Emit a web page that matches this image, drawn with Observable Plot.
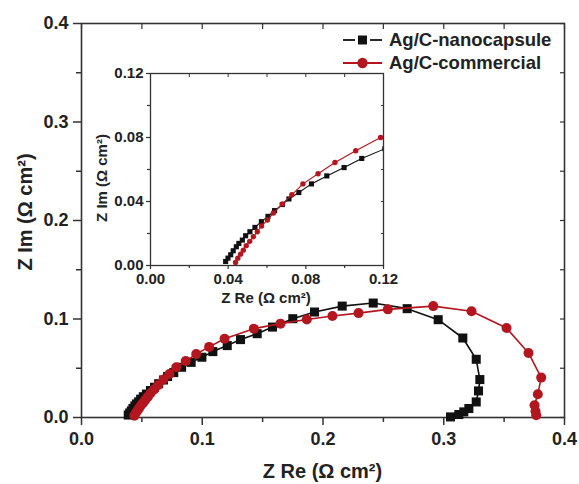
<!DOCTYPE html>
<html><head><meta charset="utf-8">
<script src="https://cdn.jsdelivr.net/npm/d3@7"></script>
<script src="https://cdn.jsdelivr.net/npm/@observablehq/plot@0.6"></script>
<style>
html,body{margin:0;padding:0;background:#fff;}
#chart{position:relative;width:579px;height:484px;overflow:hidden;}
#chart svg{position:absolute;overflow:visible;}
</style></head><body><div id="chart"></div>
<script>
// ---- data ----
const seriesNames = ["Ag/C-nanocapsule", "Ag/C-commercial"];
const nanoRe = [0.0387,0.0399,0.0413,0.0426,0.0442,0.0455,0.0473,0.0490,0.0512,0.0538,0.0571,0.0605,0.0639,0.0679,0.0713,0.0764,0.0829,0.0908,0.0997,0.1088,
  0.1207,0.1317,0.1455,0.1582,0.1750,0.1930,0.2159,0.2416,0.2697,0.2954,0.3158,0.3269,0.3299,0.3288,0.3269,0.3208,0.3166,0.3125,0.3056];
const nanoIm = [0.0025,0.0046,0.0067,0.0092,0.0117,0.0138,0.0159,0.0186,0.0211,0.0238,0.0274,0.0307,0.0343,0.0381,0.0416,0.0456,0.0510,0.0560,0.0612,0.0669,
  0.0730,0.0791,0.0851,0.0918,0.1003,0.1071,0.1131,0.1162,0.1105,0.0993,0.0807,0.0591,0.0385,0.0270,0.0158,0.0091,0.0057,0.0030,0.0006];
const commRe = [0.0438,0.0450,0.0464,0.0478,0.0493,0.0511,0.0530,0.0550,0.0572,0.0602,0.0633,0.0679,0.0728,0.0785,0.0863,0.0950,0.1057,0.1185,
  0.1427,0.1648,0.1866,0.2078,0.2294,0.2537,0.2913,0.3230,0.3520,0.3702,0.3807,0.3779,0.3752,0.3760,0.3766];
const commIm = [0.0019,0.0046,0.0071,0.0096,0.0124,0.0151,0.0180,0.0211,0.0247,0.0284,0.0328,0.0385,0.0442,0.0510,0.0573,0.0644,0.0717,0.0800,
  0.0902,0.0953,0.0995,0.1030,0.1060,0.1098,0.1131,0.1078,0.0908,0.0655,0.0405,0.0236,0.0125,0.0064,0.0023];
const mainTicks = [0, 0.1, 0.2, 0.3, 0.4];
const mainMinor = [0.05, 0.15, 0.25, 0.35];
const insetTicks = [0, 0.04, 0.08, 0.12];
const insetMinor = [0.02, 0.06, 0.10];
const titleX = "Z Re (Ω cm²)";
const titleY = "Z Im (Ω cm²)";

const nano = nanoRe.map((x, i) => ({x, y: nanoIm[i]}));
const comm = commRe.map((x, i) => ({x, y: commIm[i]}));
const BLACK = "#111111", RED = "#b3161f", AX = "#333333";
const FONT = "'Liberation Sans', Arial, sans-serif";
const blank = () => "";

function addTitle(svg, text, x, y, size, rotate) {
  d3.select(svg).append("text")
    .attr("transform", `translate(${x},${y})` + (rotate ? ` rotate(${rotate})` : ""))
    .attr("text-anchor", "middle").attr("dy", "0.35em")
    .attr("font-family", FONT).attr("font-weight", "bold").attr("font-size", size).attr("fill", "#222")
    .text(text);
}

// ---- main plot ----
const main = Plot.plot({
  width: 579, height: 484,
  marginLeft: 81, marginRight: 15, marginTop: 23, marginBottom: 67,
  x: {domain: [0, 0.4]}, y: {domain: [0, 0.4]},
  style: {fontFamily: FONT, fontWeight: "bold", color: "#222", background: "white"},
  marks: [
    Plot.axisX({ticks: mainTicks, tickSize: 8, tickPadding: 7, tickFormat: d3.format(".1f"), fontSize: 18, strokeWidth: 1.5, stroke: AX, label: null}),
    Plot.axisX({ticks: mainMinor, tickSize: 5, tickFormat: blank, strokeWidth: 1.5, stroke: AX, label: null}),
    Plot.axisX({anchor: "top", ticks: [...mainTicks, ...mainMinor], tickSize: -5, tickFormat: blank, strokeWidth: 1.2, stroke: AX, label: null}),
    Plot.axisY({ticks: mainTicks, tickSize: 8, tickPadding: 5, tickFormat: d3.format(".1f"), fontSize: 18, strokeWidth: 1.5, stroke: AX, label: null}),
    Plot.axisY({ticks: mainMinor, tickSize: 5, tickFormat: blank, strokeWidth: 1.5, stroke: AX, label: null}),
    Plot.axisY({anchor: "right", ticks: [...mainTicks, ...mainMinor], tickSize: -5, tickFormat: blank, strokeWidth: 1.2, stroke: AX, label: null}),
    Plot.frame({stroke: AX, strokeWidth: 1.6}),
    Plot.line(nano, {x: "x", y: "y", stroke: BLACK, strokeWidth: 1.6}),
    Plot.dot(nano, {x: "x", y: "y", symbol: "square", r: 5.1, fill: BLACK}),
    Plot.line(comm, {x: "x", y: "y", stroke: RED, strokeWidth: 1.6}),
    Plot.dot(comm, {x: "x", y: "y", r: 5, fill: RED})
  ]
});
main.style.left = "0px"; main.style.top = "0px";
document.getElementById("chart").appendChild(main);
addTitle(main, titleX, 322.5, 471, 20, 0);
addTitle(main, titleY, 25, 212, 20, -90);

// legend
const lg = d3.select(main).append("g").attr("font-family", FONT).attr("font-weight", "bold")
  .attr("font-size", 18.5).attr("fill", "#222").attr("text-anchor", "start");
[[seriesNames[0], 40, BLACK, "square"], [seriesNames[1], 63, RED, "circle"]].forEach(([name, y, c, sym]) => {
  if (sym === "square") {
    lg.append("line").attr("x1", 343).attr("x2", 355).attr("y1", y).attr("y2", y).attr("stroke", c).attr("stroke-width", 1.8);
    lg.append("line").attr("x1", 370).attr("x2", 382).attr("y1", y).attr("y2", y).attr("stroke", c).attr("stroke-width", 1.8);
    lg.append("rect").attr("x", 358).attr("y", y - 4.5).attr("width", 9).attr("height", 9).attr("fill", c);
  } else {
    lg.append("line").attr("x1", 343).attr("x2", 382).attr("y1", y).attr("y2", y).attr("stroke", c).attr("stroke-width", 1.8);
    lg.append("circle").attr("cx", 362.5).attr("cy", y).attr("r", 5.2).attr("fill", c);
  }
  lg.append("text").attr("x", 389).attr("y", y).attr("dy", "0.35em").text(name);
});

// ---- inset ----
const inset = Plot.plot({
  width: 300, height: 250,
  marginLeft: 60, marginRight: 7, marginTop: 13, marginBottom: 45,
  x: {domain: [0, 0.12]}, y: {domain: [0, 0.12]},
  style: {fontFamily: FONT, fontWeight: "bold", color: "#222", background: "transparent", overflow: "visible"},
  marks: [
    Plot.axisX({ticks: insetTicks, tickSize: 4, tickPadding: 4, tickFormat: d3.format(".2f"), fontSize: 15, strokeWidth: 1.2, stroke: AX, label: null}),
    Plot.axisX({ticks: insetMinor, tickSize: 3, tickFormat: blank, strokeWidth: 1.2, stroke: AX, label: null}),
    Plot.axisX({anchor: "top", ticks: [...insetTicks, ...insetMinor], tickSize: -3, tickFormat: blank, strokeWidth: 1, stroke: AX, label: null}),
    Plot.axisY({ticks: insetTicks, tickSize: 4, tickPadding: 3, tickFormat: d3.format(".2f"), fontSize: 15, strokeWidth: 1.2, stroke: AX, label: null}),
    Plot.axisY({ticks: insetMinor, tickSize: 3, tickFormat: blank, strokeWidth: 1.2, stroke: AX, label: null}),
    Plot.axisY({anchor: "right", ticks: [...insetTicks, ...insetMinor], tickSize: -3, tickFormat: blank, strokeWidth: 1, stroke: AX, label: null}),
    Plot.frame({stroke: AX, strokeWidth: 1.3}),
    Plot.line(nano, {x: "x", y: "y", stroke: BLACK, strokeWidth: 1.1, clip: true}),
    Plot.dot(nano, {x: "x", y: "y", symbol: "square", r: 2.9, fill: BLACK, clip: true}),
    Plot.line(comm, {x: "x", y: "y", stroke: RED, strokeWidth: 1.1, clip: true}),
    Plot.dot(comm, {x: "x", y: "y", r: 2.7, fill: RED, clip: true})
  ]
});
inset.style.left = "90px"; inset.style.top = "60px";
document.getElementById("chart").appendChild(inset);
addTitle(inset, titleX, 176, 238, 15, 0);
addTitle(inset, titleY, 12, 118, 15, -90);
</script></body></html>
